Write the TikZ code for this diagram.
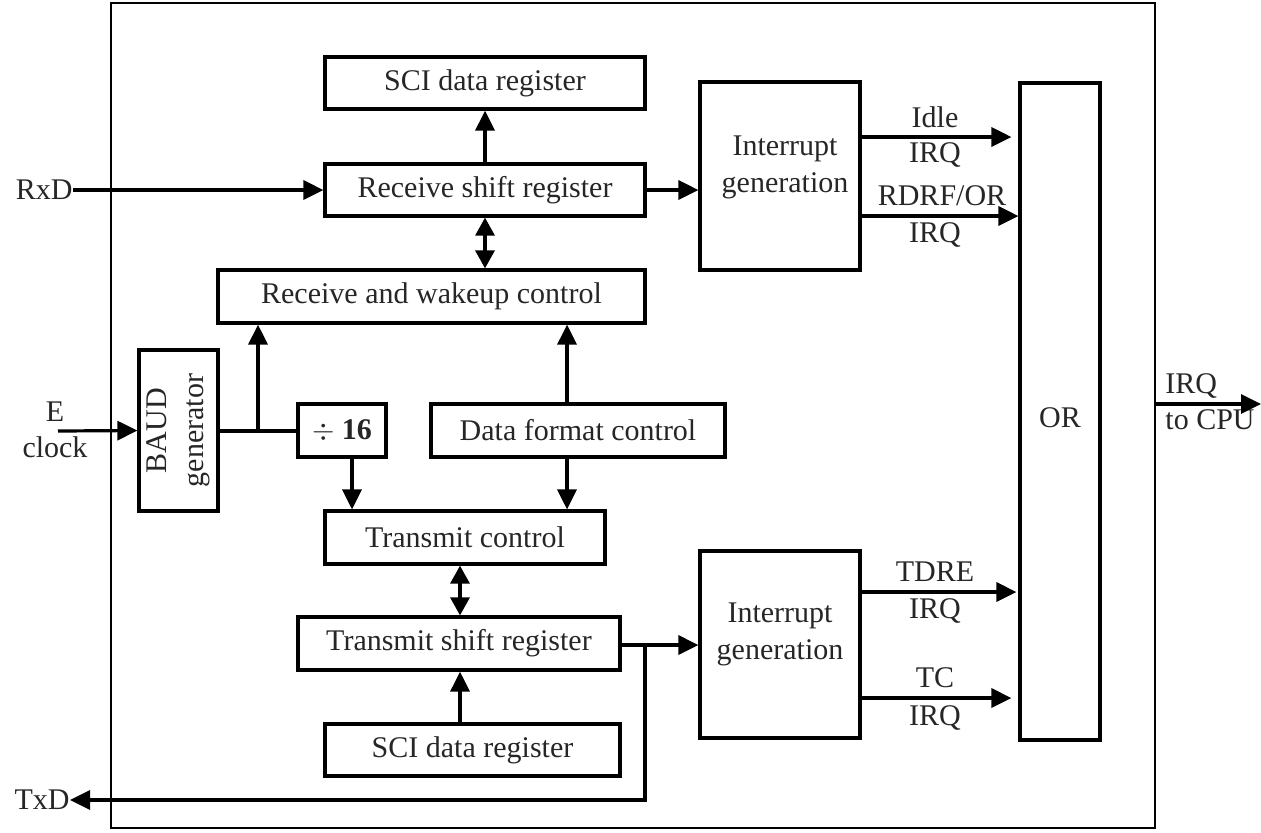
\documentclass[tikz,border=0pt]{standalone}
\usepackage{fontspec}
\setmainfont{Liberation Serif}
\usetikzlibrary{arrows.meta}
\tikzset{
  bx/.style 2 args={draw, line width=1.6pt, inner sep=0pt,
    minimum width=#1*0.5pt, minimum height=#2*0.5pt},
  lbl/.style={inner sep=0pt, align=center, text=black!85},
  arr/.style={line width=1.6pt, -{Triangle[length=10pt,width=9.5pt]}},
  darr/.style={line width=1.6pt, {Triangle[length=9pt,width=9.5pt]}-{Triangle[length=9pt,width=9.5pt]}},
  ln/.style={line width=1.6pt},
}
\begin{document}
\begin{tikzpicture}[x=0.5pt, y=-0.5pt,
  every node/.style={font=\fontsize{15pt}{18.5pt}\selectfont, text=black!85}]
\useasboundingbox (0,0) rectangle (1261,832);
% module frame
\draw[line width=1.2pt] (111,3) rectangle (1155,828);

% receive path
\node[bx={320}{52}] (sciR) at (485,83) {SCI data register};
\node[bx={320}{52}] (rsr)  at (485,190) {Receive shift register};
\node[bx={427}{53}] (rwc)  at (431.5,296.5) {Receive and wakeup control};
\node[bx={160}{188}] (ig1) at (780,176) {};
\node[lbl] at (785,167) {Interrupt\\generation};

% OR gate
\node[bx={80}{657}] (orb) at (1060,411.5) {};
\node[lbl] at (1060,418) {OR};

% clocking
\node[bx={79}{161}] (baud) at (178.5,430.5) {};
\node[lbl, rotate=90] at (baud.center) {BAUD\\generator};
\node[bx={88}{53}] (div) at (342,430.5) {$\div$ \textbf{16}};
\node[bx={294}{53}] (dfc) at (578,430.5) {Data format control};

% transmit path
\node[bx={280}{53}] (tc)   at (465,537.5) {Transmit control};
\node[bx={322}{53}] (tsr)  at (459,643.5) {Transmit shift register};
\node[bx={295}{52}] (sciT) at (472.5,750) {SCI data register};
\node[bx={160}{187}] (ig2) at (780,644.5) {};
\node[lbl] at (780,634) {Interrupt\\generation};

% external pins
\node[lbl, anchor=east] (rxd) at (73,190) {RxD};
\node[lbl] (elab) at (55,412) {E};
\node[lbl] (clab) at (55,447) {clock};
\node[lbl, anchor=east] (txd) at (70,800) {TxD};
\coordinate (ein) at (58,431);

% interrupt request labels
\node[lbl] at (935,117) {Idle};
\node[lbl] at (935,155) {IRQ};
\node[lbl] at (942,196) {RDRF/OR};
\node[lbl] at (935,235) {IRQ};
\node[lbl] at (935,572) {TDRE};
\node[lbl] at (935,611) {IRQ};
\node[lbl] at (935,678) {TC};
\node[lbl] at (935,718) {IRQ};
\node[lbl, anchor=west] at (1165,386) {IRQ};
\node[lbl, anchor=west] at (1165,420) {to CPU};
\coordinate (cpuS) at (1155,404);
\coordinate (cpu) at (1261,404);

% branch points
\coordinate (j1) at (258,431);
\coordinate (j2) at (645,645);
\coordinate (xd) at (352,0);
\coordinate (xf) at (567,0);
\coordinate (xt) at (460,0);

% receive connections
\draw[arr] (rxd.east) -- (rsr.west);
\draw[arr] (rsr.north) -- (sciR.south);
\draw[darr] (rsr.south) -- (rsr.south |- rwc.north);
\draw[arr] (rsr.east) -- (rsr.east -| ig1.west);
\draw[arr, shorten >=3.5pt] (ig1.east |- 0,137) -- (orb.west |- 0,137);
\draw[arr] (ig1.east |- 0,216) -- (orb.west |- 0,216);

% clock connections
\draw[arr] (ein) -- (baud.west);
\draw[ln] (baud.east |- j1) -- (div.west |- j1);
\draw[arr] (j1) -- (j1 |- rwc.south);
\draw[arr] (xd |- div.south) -- (xd |- tc.north);
\draw[arr] (xf |- dfc.north) -- (xf |- rwc.south);
\draw[arr] (xf |- dfc.south) -- (xf |- tc.north);

% transmit connections
\draw[darr] (xt |- tc.south) -- (xt |- tsr.north);
\draw[arr] (xt |- sciT.north) -- (xt |- tsr.south);
\draw[arr] (tsr.east |- j2) -- (ig2.west |- j2);
\draw[arr] (j2) -- (j2 |- txd) -- (txd.east);
\draw[arr, shorten >=1pt] (ig2.east |- 0,592) -- (orb.west |- 0,592);
\draw[arr, shorten >=3.5pt] (ig2.east |- 0,698) -- (orb.west |- 0,698);

% output to the CPU
\draw[arr] (cpuS) -- (cpu);
\end{tikzpicture}
\end{document}
